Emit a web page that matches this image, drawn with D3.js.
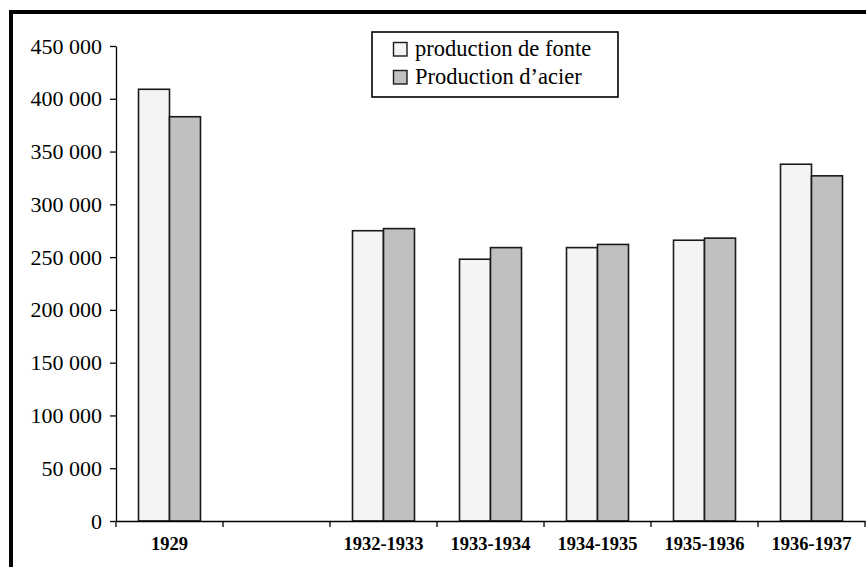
<!DOCTYPE html>
<html>
<head>
<meta charset="utf-8">
<script src="https://cdn.jsdelivr.net/npm/d3@7"></script>
<style>
  html, body { margin: 0; padding: 0; background: #fff; }
  svg { display: block; }
  svg text { font-family: "Liberation Serif", "Times New Roman", serif; }
</style>
</head>
<body>
<svg id="chart" width="866" height="567"></svg>
<script>
const categories = ["1929", "", "1932-1933", "1933-1934", "1934-1935", "1935-1936", "1936-1937"];
const fonte = [409000, null, 275000, 248000, 259000, 266000, 338000];
const acier = [383000, null, 277000, 259000, 262000, 268000, 327000];
const seriesNames = ["production de fonte", "Production d\u2019acier"];
const seriesColors = ["#f4f4f4", "#c0c0c0"];
const yTicks = [0, 50000, 100000, 150000, 200000, 250000, 300000, 350000, 400000, 450000];

(function () {
const svg = d3.select("#chart");
const pLeft = 116, pRight = 865, pTop = 46, pBottom = 521;

const x = d3.scaleBand().domain(categories).range([pLeft, pRight]).padding(0);
const bw = x.bandwidth();
const x1 = d3.scaleBand().domain([0, 1]).range([bw / 2 - 31, bw / 2 + 31]).padding(0);
const y = d3.scaleLinear().domain([0, 450000]).range([pBottom, pTop]);

// outer frame (top & left visible)
svg.append("path")
  .attr("d", "M11,567 V12 H866")
  .attr("fill", "none").attr("stroke", "#000").attr("stroke-width", 4);

// bars
const rows = categories.map((c, i) => ({ c, vals: [fonte[i], acier[i]] }));
const g = svg.append("g");
rows.forEach(r => {
  r.vals.forEach((v, j) => {
    if (v == null) return;
    g.append("rect")
      .attr("x", x(r.c) + x1(j))
      .attr("y", y(v))
      .attr("width", x1.bandwidth())
      .attr("height", y(0) - y(v))
      .attr("fill", seriesColors[j])
      .attr("stroke", "#1a1a1a")
      .attr("stroke-width", 1.6);
  });
});

// y axis
const fmt = v => d3.format(",")(v).replace(/,/g, " ");
const yAxis = svg.append("g").attr("transform", `translate(${pLeft},0)`)
  .call(d3.axisLeft(y).tickValues(yTicks).tickFormat(fmt).tickSize(6).tickSizeOuter(0).tickPadding(8));
yAxis.attr("font-family", null).attr("font-size", null);
yAxis.select(".domain").attr("stroke", "#000").attr("stroke-width", 1.3);
yAxis.selectAll(".tick line").attr("stroke", "#000").attr("stroke-width", 1.3);
yAxis.selectAll(".tick text")
  .style("font-family", '"Liberation Serif", "Times New Roman", serif')
  .style("font-size", "22px").attr("fill", "#000");

// x axis
const xAxis = svg.append("g").attr("transform", `translate(0,${pBottom})`)
  .call(d3.axisBottom(x).tickSize(0).tickSizeOuter(0).tickPadding(16));
xAxis.attr("font-family", null).attr("font-size", null);
xAxis.select(".domain").attr("stroke", "#000").attr("stroke-width", 1.3);
xAxis.selectAll(".tick text")
  .style("font-family", '"Liberation Serif", "Times New Roman", serif')
  .style("font-size", "18.5px").style("font-weight", "bold").attr("fill", "#000");
const bounds = categories.map(c => x(c)).concat([x(categories[categories.length - 1]) + bw]);
xAxis.selectAll(".bound").data(bounds).enter().append("line")
  .attr("x1", d => d).attr("x2", d => d).attr("y1", 0).attr("y2", 6)
  .attr("stroke", "#000").attr("stroke-width", 1.3);

// legend
const lg = svg.append("g");
lg.append("rect").attr("x", 372).attr("y", 32).attr("width", 246).attr("height", 65)
  .attr("fill", "#fff").attr("stroke", "#000").attr("stroke-width", 1.6);
seriesNames.forEach((n, j) => {
  lg.append("rect").attr("x", 393.5).attr("y", 42.5 + j * 28).attr("width", 13.5).attr("height", 13.5)
    .attr("fill", seriesColors[j]).attr("stroke", "#1a1a1a").attr("stroke-width", 1.4);
  lg.append("text").attr("x", 415).attr("y", 55.5 + j * 28)
    .style("font-size", "22.5px").attr("fill", "#000").text(n);
});
})();
</script>
</body>
</html>
